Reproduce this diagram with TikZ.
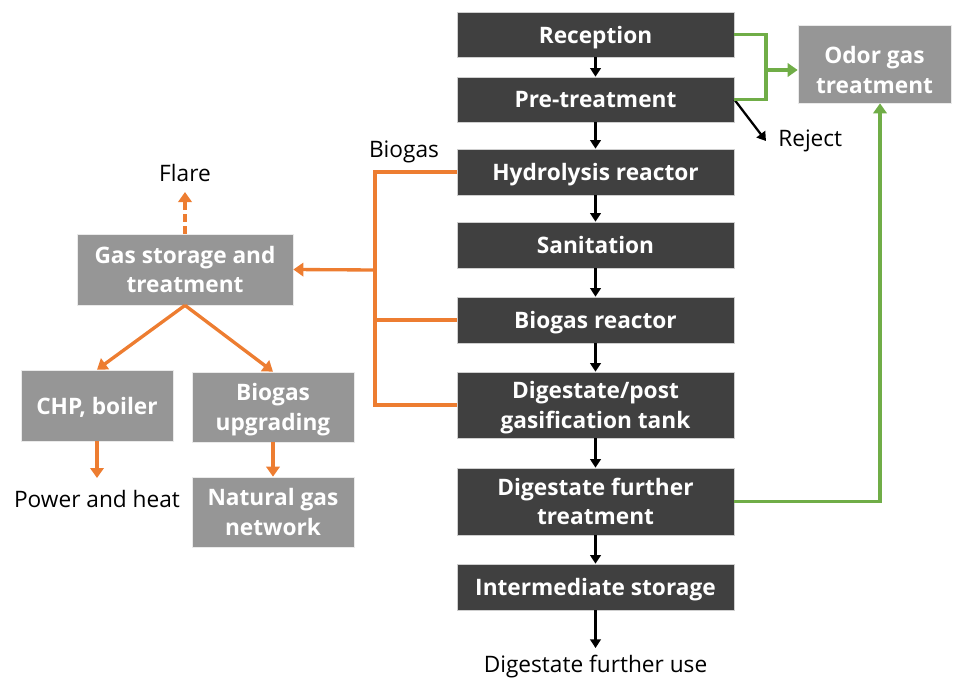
\documentclass[tikz,border=0pt]{standalone}
\usepackage{fontspec}
\setmainfont{Open Sans}
\usetikzlibrary{arrows.meta}
\definecolor{boxdark}{HTML}{404040}
\definecolor{boxgrey}{HTML}{969696}
\definecolor{gasorange}{HTML}{ED7D31}
\definecolor{odorgreen}{HTML}{70AD47}
\tikzset{
  procbox/.style={fill=boxdark, draw=white!75!boxdark, line width=0.5pt, text=white,
    font=\bfseries\fontsize{17}{22}\selectfont, align=center, inner sep=0pt,
    text depth=0pt, minimum width=207.75pt},
  gasbox/.style={fill=boxgrey, draw=white!80!boxgrey, line width=0.5pt, text=white,
    font=\bfseries\fontsize{17}{22}\selectfont, align=center, inner sep=0pt,
    text depth=0pt},
  boxtext/.style={text=white, font=\bfseries\fontsize{17}{22}\selectfont,
    align=center, inner sep=0pt, text depth=0pt},
  plainlabel/.style={font=\fontsize{17}{20}\selectfont, inner sep=0pt},
  flowarrow/.style={line width=1.7pt, -{Triangle[length=6.5pt,width=8pt]}},
  gasline/.style={gasorange, line width=2.5pt},
  gasarrow/.style={gasline, -{Triangle[length=7.5pt,width=10pt]}},
  odorline/.style={odorgreen, line width=2.5pt},
  odorarrow/.style={odorline, -{Triangle[length=7.5pt,width=10pt]}}
}
\begin{document}
\begin{tikzpicture}[x=0.75pt, y=-0.75pt]
\useasboundingbox (0,0) rectangle (953,682);

% main process column
\node[procbox, minimum height=33.75pt] (rec) at (595.5,34.5) {Reception};
\node[procbox, minimum height=33.75pt] (pre) at (595.5,99.5) {Pre-treatment};
\node[procbox, minimum height=34.5pt] (hyd) at (595.5,172) {Hydrolysis reactor};
\node[procbox, minimum height=34.5pt] (san) at (595.5,245) {Sanitation};
\node[procbox, minimum height=34.5pt] (brx) at (595.5,320) {Biogas reactor};
\node[procbox, minimum height=49.5pt] (dpt) at (595.5,405) {Digestate/post\\gasification tank};
\node[procbox, minimum height=50.25pt] (dft) at (595.5,501.5) {Digestate further\\treatment};
\node[procbox, minimum height=34.5pt] (ist) at (595.5,587) {Intermediate storage};
\node[plainlabel] (use) at (595.5,667) {Digestate further use};
\coordinate (usetop) at (595.5,648);

\draw[flowarrow] (rec) -- (pre);
\draw[flowarrow] (pre) -- (hyd);
\draw[flowarrow] (hyd) -- (san);
\draw[flowarrow] (san) -- (brx);
\draw[flowarrow] (brx) -- (dpt);
\draw[flowarrow] (dpt) -- (dft);
\draw[flowarrow] (dft) -- (ist);
\draw[flowarrow] (ist) -- (usetop);

% reject stream
\node[plainlabel, anchor=west] (rej) at (778,141) {Reject};
\coordinate (rejtip) at (766,141);
\draw[line width=1.7pt, -{Triangle[length=6.5pt,width=8pt]}] (pre.east) -- (rejtip);

% odor gas collection (text sits low in its box)
\node[gasbox, minimum width=114.75pt, minimum height=58.5pt] (odor) at (874.5,64) {};
\node[boxtext] (odortxt) at (874.5,70) {Odor gas\\treatment};
\coordinate (gj) at (766,70);
\draw[odorline] (rec.east) -| (gj) |- (pre.east);
\draw[odorarrow] (gj) -- (gj -| odor.west);
\coordinate (gr) at (880,0);
\draw[odorarrow] (dft.east) -| (gr |- odor.south);

% biogas collection
\node[plainlabel] (biogas) at (404,152) {Biogas};
\coordinate (bj) at (375,270);
\draw[gasline] (hyd.west) -| (bj |- dpt.west) -- (dpt.west);
\draw[gasline] (brx.west) -- (brx.west -| bj);

% gas utilisation
\node[gasbox, minimum width=162pt, minimum height=53.25pt] (gst) at (185,269.5) {Gas storage and\\treatment};
\draw[gasarrow] (bj) -- (gst.east);
\node[plainlabel] (flare) at (185,173) {Flare};
\coordinate (flaretip) at (185,192);
\draw[gasline, dash pattern=on 6pt off 3pt, -{Triangle[length=7.5pt,width=10pt]}] (gst.north) -- (flaretip);

\node[gasbox, minimum width=114pt, minimum height=53.25pt] (chp) at (97,405.5) {CHP, boiler};
\node[gasbox, minimum width=121.5pt, minimum height=52.5pt] (upg) at (273,407) {Biogas\\upgrading};
\node[gasbox, minimum width=121.5pt, minimum height=52.5pt] (ngn) at (273,512) {Natural gas\\network};
\draw[gasarrow] (gst.south) -- (chp.north);
\draw[gasarrow] (gst.south) -- (upg.north);
\draw[gasarrow] (upg) -- (ngn);

\node[plainlabel] (pwr) at (97,499) {Power and heat};
\coordinate (pwrtop) at (97,478);
\draw[gasarrow] (chp.south) -- (pwrtop);
\end{tikzpicture}
\end{document}
